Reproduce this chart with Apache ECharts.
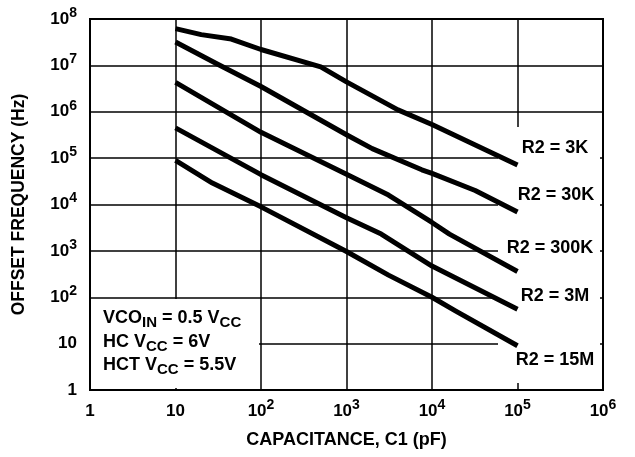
<!DOCTYPE html>
<html>
<head>
<meta charset="utf-8">
<script src="https://cdn.jsdelivr.net/npm/echarts@6/dist/echarts.min.js"></script>
<style>
html,body{margin:0;padding:0;background:#fff;}
#chart{width:635px;height:457px;}
</style>
</head>
<body>
<div id="chart"></div>
<script>
// Capacitance C1 (pF) and offset frequency (Hz) for each R2 curve
const c3K   = [10, 20, 45, 100, 500, 1000, 4000, 10000, 100000];
const f3K   = [6.2e7, 4.6e7, 3.7e7, 2.2e7, 9.3e6, 4.4e6, 1.1e6, 5.3e5, 7.1e4];
const c30K  = [10, 30, 100, 1000, 2000, 7600, 10000, 32000, 100000];
const f30K  = [3.2e7, 1.1e7, 3.5e6, 3.2e5, 1.6e5, 5.6e4, 4.7e4, 2.0e4, 6.9e3];
const c300K = [10, 100, 1000, 3100, 10000, 16000, 100000];
const f300K = [4.3e6, 3.6e5, 4.5e4, 1.6e4, 4.1e3, 2.3e3, 360];
const c3M   = [10, 100, 1000, 2550, 10000, 100000];
const f3M   = [4.5e5, 4.4e4, 5.2e3, 2.3e3, 470, 55];
const c15M  = [10, 27, 100, 1000, 3100, 10000, 19000, 100000];
const f15M  = [8.9e4, 2.9e4, 8.9e3, 970, 300, 100, 50, 9];

const seriesNames = ['R2 = 3K', 'R2 = 30K', 'R2 = 300K', 'R2 = 3M', 'R2 = 15M'];
const xTitle = 'CAPACITANCE, C1 (pF)';
const yTitle = 'OFFSET FREQUENCY (Hz)';

const FONT = '"Liberation Sans", Arial, Helvetica, sans-serif';

function pairs(c, f) { return c.map((v, i) => [v, f[i]]); }
const allC = [c3K, c30K, c300K, c3M, c15M];
const allF = [f3K, f30K, f300K, f3M, f15M];

function powLabel(v) {
  const e = Math.round(Math.log10(v));
  if (e === 0) return '{b|1}';
  if (e === 1) return '{b|10}';
  return '{b|10}{s|' + e + '}';
}
const richPow = {
  b: { fontSize: 17, fontWeight: 'bold', fontFamily: FONT, color: '#000', lineHeight: 26 },
  s: { fontSize: 14, fontWeight: 'bold', fontFamily: FONT, color: '#000', lineHeight: 14, verticalAlign: 'top' }
};

const chart = echarts.init(document.getElementById('chart'), null, { renderer: 'canvas' });

const series = allC.map((c, i) => ({
  name: seriesNames[i],
  type: 'line',
  data: pairs(c, allF[i]),
  showSymbol: false,
  symbol: 'none',
  smooth: false,
  z: 60,
  lineStyle: { color: '#000', width: 5, cap: 'butt', join: 'round' },
  animation: false
}));

const labelPos = [[555, 148], [556, 195], [550, 248], [555, 296], [555, 360]];
const richNote = {
  t: { fontSize: 18, fontWeight: 'bold', fontFamily: FONT, fill: '#000', color: '#000', lineHeight: 24 },
  u: { fontSize: 15, fontWeight: 'bold', fontFamily: FONT, fill: '#000', color: '#000', lineHeight: 15, verticalAlign: 'bottom' }
};
const noteLines = [
  '{t|VCO}{u|IN}{t| = 0.5 V}{u|CC}',
  '{t|HC V}{u|CC}{t| = 6V}',
  '{t|HCT V}{u|CC}{t| = 5.5V}'
];
const noteY = [318, 342, 365];

const graphics = [
  { type: 'rect', z: 50, shape: { x: 498, y: 127, width: 102, height: 256 }, style: { fill: '#fff' }, silent: true },
  { type: 'rect', z: 50, shape: { x: 91, y: 299, width: 168, height: 89 }, style: { fill: '#fff' }, silent: true }
];
seriesNames.forEach((n, i) => {
  graphics.push({
    type: 'text', z: 70, x: labelPos[i][0], y: labelPos[i][1],
    style: { text: n, fill: '#000', font: 'bold 18px ' + FONT, textAlign: 'center', textVerticalAlign: 'middle' }
  });
});
noteLines.forEach((t, i) => {
  graphics.push({
    type: 'text', z: 70, x: 103, y: noteY[i],
    style: { text: t, rich: richNote, fill: '#000', font: 'bold 18px ' + FONT, textAlign: 'left', textVerticalAlign: 'middle' }
  });
});

chart.setOption({
  animation: false,
  backgroundColor: '#fff',
  grid: { left: 90, right: 32, top: 19, bottom: 67, show: true, borderColor: '#000', borderWidth: 2, backgroundColor: 'transparent' },
  xAxis: {
    type: 'log', logBase: 10, min: 1, max: 1e6,
    name: xTitle, nameLocation: 'middle', nameGap: 41,
    nameTextStyle: { fontSize: 18, fontWeight: 'bold', fontFamily: FONT, color: '#000' },
    axisLine: { show: true, lineStyle: { color: '#000', width: 2 } },
    axisTick: { show: false },
    minorTick: { show: false },
    splitLine: { show: true, lineStyle: { color: '#000', width: 1.5 } },
    axisLabel: { margin: 8, formatter: powLabel, rich: richPow, color: '#000' }
  },
  yAxis: {
    type: 'log', logBase: 10, min: 1, max: 1e8,
    name: yTitle, nameLocation: 'middle', nameGap: 62, nameRotate: 90,
    nameTextStyle: { fontSize: 17.5, fontWeight: 'bold', fontFamily: FONT, color: '#000' },
    axisLine: { show: true, lineStyle: { color: '#000', width: 2 } },
    axisTick: { show: false },
    splitLine: { show: true, lineStyle: { color: '#000', width: 1.5 } },
    axisLabel: { margin: 13, formatter: powLabel, rich: richPow, color: '#000' }
  },
  series: series,
  graphic: graphics
});
</script>
</body>
</html>
